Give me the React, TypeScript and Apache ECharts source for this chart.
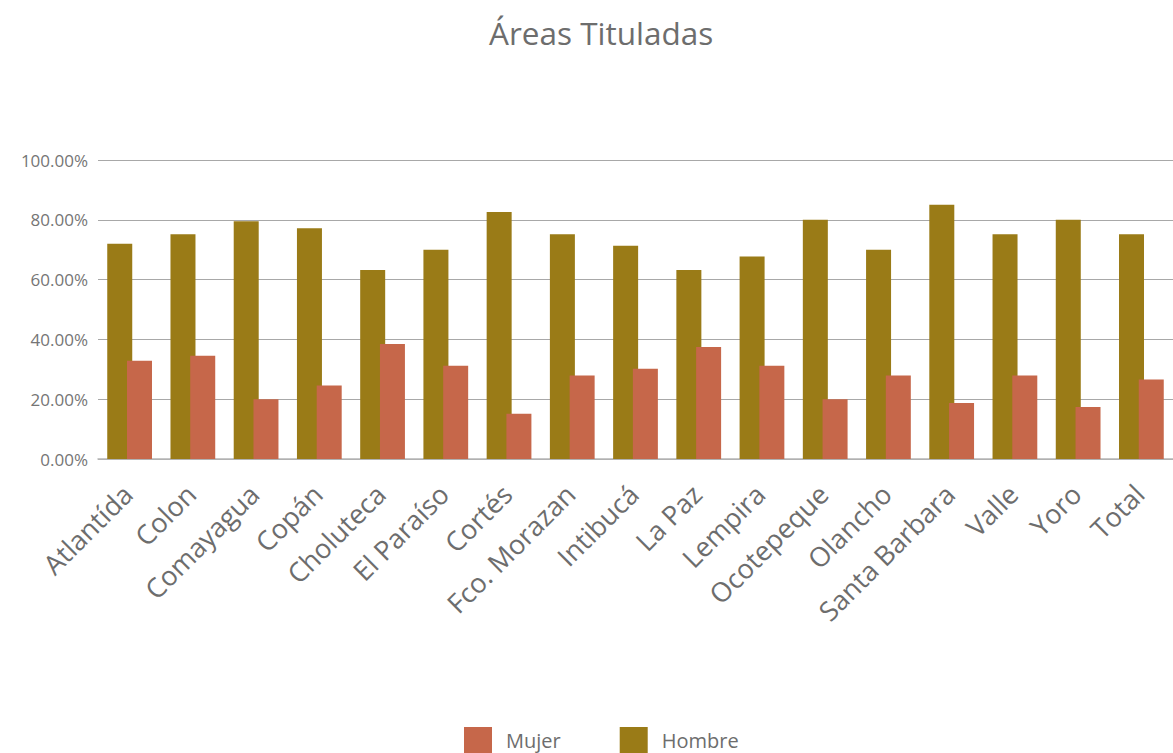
import React, { useEffect, useRef } from "react";
import * as echarts from "echarts";

const categories = [
  "Atlantída", "Colon", "Comayagua", "Copán", "Choluteca", "El Paraíso", "Cortés",
  "Fco. Morazan", "Intibucá", "La Paz", "Lempira", "Ocotepeque", "Olancho",
  "Santa Barbara", "Valle", "Yoro", "Total",
];
const hombre = [72.0, 75.2, 79.5, 77.2, 63.2, 70.0, 82.6, 75.2, 71.3, 63.2, 67.7, 80.0, 70.0, 85.0, 75.2, 80.0, 75.2];
const mujer = [32.9, 34.5, 20.0, 24.6, 38.5, 31.2, 15.1, 27.9, 30.2, 37.5, 31.2, 20.0, 27.9, 18.7, 27.9, 17.4, 26.6];

const FONT = "'Open Sans', 'Noto Sans', sans-serif";

export default function App() {
  const ref = useRef<HTMLDivElement>(null);
  useEffect(() => {
    if (!ref.current) return;
    const chart = echarts.init(ref.current, null, { renderer: "svg" });
    chart.setOption({
      animation: false,
      backgroundColor: "#ffffff",
      title: {
        text: "Áreas Tituladas",
        left: 484,
        top: 11,
        textStyle: { fontFamily: FONT, fontSize: 31.5, fontWeight: "normal", color: "#6d6d6d" },
      },
      legend: {
        data: ["Mujer", "Hombre"],
        bottom: 0,
        padding: 0,
        left: 464,
        icon: "rect",
        itemWidth: 28,
        itemHeight: 26,
        itemGap: 59,
        textStyle: { fontFamily: FONT, fontSize: 20, color: "#6d6d6d", padding: [0, 0, 0, 9] },
      },
      grid: { left: 98, right: -10, top: 160, bottom: 294, containLabel: false },
      xAxis: {
        type: "category",
        data: categories,
        axisLine: { show: true, lineStyle: { color: "#b5b5b5", width: 1.5 } },
        axisTick: { show: false },
        axisLabel: {
          rotate: 45,
          interval: 0,
          margin: 28,
          padding: [0, 3, 0, 0],
          fontFamily: FONT,
          fontSize: 27,
          color: "#6d6d6d",
        },
      },
      yAxis: {
        type: "value",
        min: 0,
        max: 100,
        interval: 20,
        axisLine: { show: false },
        axisTick: { show: false },
        splitLine: { lineStyle: { color: "#a8a8a8", width: 1 } },
        axisLabel: {
          margin: 10,
          fontFamily: FONT,
          fontSize: 17,
          color: "#757575",
          formatter: (v: number) => v.toFixed(2) + "%",
        },
      },
      series: [
        {
          name: "Hombre",
          type: "bar",
          data: hombre,
          barWidth: 25,
          barGap: "-21%",
          itemStyle: { color: "#9a7b17" },
        },
        {
          name: "Mujer",
          type: "bar",
          data: mujer,
          barWidth: 25,
          barGap: "-21%",
          itemStyle: { color: "#c6674a" },
        },
      ],
    });
    return () => chart.dispose();
  }, []);
  return (
    <div
      ref={ref}
      style={{ position: "fixed", left: 0, top: 0, width: 1173, height: 753 }}
    />
  );
}
